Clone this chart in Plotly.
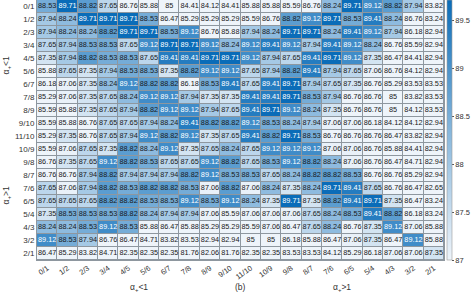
import plotly.graph_objects as go

# Category labels (rows top->bottom, columns left->right)
row_labels = ["0/1", "1/2", "2/3", "3/4", "4/5", "5/6", "6/7", "7/8", "8/9", "9/10",
              "11/10", "10/9", "9/8", "8/7", "7/6", "6/5", "5/4", "4/3", "3/2", "2/1"]
col_labels = ["0/1", "1/2", "2/3", "3/4", "4/5", "5/6", "6/7", "7/8", "8/9", "9/10",
              "11/10", "10/9", "9/8", "8/7", "7/6", "6/5", "5/4", "4/3", "3/2", "2/1"]

# Cell values, one list per row
r_0_1 = [88.53, 89.71, 88.82, 87.65, 86.76, 85.88, 85, 84.41, 84.12, 84.41, 85.88, 85.88, 85.59, 86.76, 88.24, 89.71, 89.12, 88.82, 87.94, 83.82]
r_1_2 = [87.94, 88.24, 89.71, 89.71, 89.71, 88.53, 86.47, 85.29, 85.29, 85.29, 85.59, 86.76, 88.82, 89.12, 89.71, 88.53, 89.41, 88.24, 86.76, 83.24]
r_2_3 = [87.94, 88.24, 88.24, 88.82, 89.71, 89.71, 88.53, 89.12, 86.76, 85.88, 87.94, 88.24, 89.71, 89.71, 88.24, 89.41, 89.12, 87.94, 86.18, 82.94]
r_3_4 = [87.65, 87.94, 88.53, 88.53, 87.65, 89.12, 89.71, 89.71, 89.12, 88.24, 89.12, 89.41, 89.12, 87.94, 89.41, 89.12, 88.24, 86.76, 85.59, 82.94]
r_4_5 = [87.35, 87.94, 88.82, 88.53, 88.53, 87.65, 89.41, 89.41, 89.71, 89.71, 89.12, 87.94, 87.65, 89.41, 89.71, 89.12, 87.35, 86.47, 84.41, 82.94]
r_5_6 = [85.88, 87.65, 87.35, 87.94, 88.53, 88.53, 87.35, 88.82, 89.12, 89.12, 87.65, 87.94, 88.82, 89.41, 87.94, 87.65, 87.06, 86.76, 84.12, 82.94]
r_6_7 = [86.18, 87.06, 87.35, 88.24, 89.12, 88.82, 88.82, 86.18, 88.53, 89.41, 87.65, 89.41, 89.71, 87.94, 87.65, 87.35, 86.76, 85.29, 83.53, 83.53]
r_7_8 = [85.29, 87.06, 87.35, 87.65, 88.24, 89.12, 89.12, 87.94, 87.35, 87.35, 89.41, 89.41, 89.71, 88.53, 87.94, 86.76, 86.76, 85, 83.82, 83.53]
r_8_9 = [85.59, 85.88, 87.35, 87.65, 87.94, 88.82, 89.12, 89.12, 87.94, 87.65, 89.41, 89.71, 89.12, 88.24, 87.35, 86.76, 86.76, 85, 84.12, 83.53]
r_9_10 = [85.59, 85.88, 86.76, 87.65, 87.65, 87.94, 88.24, 89.41, 88.82, 88.82, 89.12, 88.53, 88.24, 87.94, 87.06, 87.06, 86.18, 84.12, 84.12, 82.94]
r_11_10 = [85.29, 87.35, 86.76, 87.65, 87.94, 89.12, 88.82, 89.12, 87.35, 87.65, 89.41, 88.82, 89.71, 88.53, 86.76, 86.76, 86.76, 86.47, 83.82, 82.94]
r_10_9 = [85.59, 87.06, 87.65, 87.35, 88.82, 88.24, 89.12, 87.35, 87.65, 88.24, 87.65, 89.12, 89.12, 89.12, 87.06, 87.06, 86.76, 85.88, 84.41, 82.94]
r_9_8 = [86.76, 87.35, 87.65, 89.12, 88.82, 88.53, 87.65, 87.65, 89.12, 88.82, 87.65, 88.53, 89.12, 88.82, 88.24, 87.06, 86.76, 86.47, 84.71, 82.94]
r_8_7 = [86.76, 86.76, 87.94, 88.82, 87.94, 87.94, 87.94, 88.82, 89.12, 88.53, 88.53, 87.65, 88.24, 88.82, 88.82, 88.53, 86.76, 86.76, 85.29, 82.94]
r_7_6 = [87.65, 87.06, 87.94, 88.82, 88.53, 88.82, 88.82, 88.53, 87.06, 88.82, 87.06, 88.24, 87.35, 88.24, 89.71, 89.41, 87.65, 86.76, 86.47, 82.65]
r_6_5 = [87.65, 87.65, 87.65, 88.82, 88.82, 88.53, 88.53, 89.12, 88.53, 89.12, 88.24, 87.35, 89.71, 87.35, 88.82, 89.41, 89.71, 87.35, 86.47, 83.24]
r_5_4 = [87.35, 88.53, 88.53, 88.53, 88.82, 88.24, 87.94, 87.94, 87.06, 85.59, 87.06, 87.06, 87.06, 87.65, 88.24, 88.53, 89.41, 88.82, 86.18, 83.24]
r_4_3 = [88.24, 88.24, 88.53, 89.12, 88.53, 85.88, 86.47, 85.88, 85.29, 85.29, 85.59, 87.06, 86.47, 87.65, 88.24, 86.76, 87.35, 89.12, 87.06, 85.88]
r_3_2 = [89.12, 88.53, 87.94, 86.76, 86.47, 84.71, 83.82, 83.53, 82.94, 82.94, 85, 85, 86.18, 85.88, 86.47, 87.06, 87.35, 86.47, 89.12, 85.88]
r_2_1 = [86.47, 85.29, 83.82, 84.71, 82.35, 82.35, 82.35, 81.76, 82.06, 81.76, 82.35, 82.35, 83.53, 83.53, 84.12, 85.29, 86.18, 87.06, 87.06, 87.35]

cbar_ticks = [87, 87.5, 88, 88.5, 89, 89.5]

z = [r_0_1, r_1_2, r_2_3, r_3_4, r_4_5, r_5_6, r_6_7, r_7_8, r_8_9, r_9_10,
     r_11_10, r_10_9, r_9_8, r_8_7, r_7_6, r_6_5, r_5_4, r_4_3, r_3_2, r_2_1]

nx = len(col_labels)
ny = len(row_labels)
xs = list(range(nx))
ys = list(range(ny))

zmin, zmax = 87, 89.71
font_fam = "Arial, Liberation Sans, sans-serif"

fig = go.Figure()
fig.add_trace(go.Heatmap(
    z=z, x=xs, y=ys, zmin=zmin, zmax=zmax,
    colorscale=[[0, "#eef4fa"], [0.5, "#85b6dc"], [1, "#0a6cb8"]],
    xgap=1, ygap=1, hoverinfo="skip",
    colorbar=dict(
        thickness=5, len=1.0, lenmode="fraction", y=0.5, yanchor="middle",
        x=1.007, xanchor="left", xpad=0, ypad=0,
        outlinewidth=0.6, outlinecolor="#9a9a9a",
        tickvals=cbar_ticks, ticktext=[f"{t:g}" for t in cbar_ticks],
        ticks="outside", ticklen=2, tickwidth=0.6, tickcolor="#555555",
        tickfont=dict(size=7.5, color="#333333", family=font_fam),
    ),
))

tx, ty, tt, tc = [], [], [], []
for j, row in enumerate(z):
    for i, v in enumerate(row):
        tx.append(xs[i]); ty.append(ys[j]); tt.append(f"{v:g}")
        tc.append("#ffffff" if v >= 89.0 else "#1a1a1a")

fig.add_trace(go.Scatter(
    x=tx, y=ty, text=tt, mode="text", hoverinfo="skip", showlegend=False,
    textfont=dict(size=7.3, color=tc, family=font_fam),
))

fig.update_layout(
    width=471, height=296,
    margin=dict(l=37, r=24, t=0, b=36),
    paper_bgcolor="white", plot_bgcolor="#8e979f",
    showlegend=False,
    xaxis=dict(
        tickmode="array", tickvals=xs, ticktext=col_labels, tickangle=-35,
        range=[-0.5, nx - 0.5], showgrid=False, zeroline=False,
        showline=True, linecolor="#8e979f", linewidth=1, mirror=True,
        ticks="", automargin=False,
        tickfont=dict(size=7.5, color="#333333", family=font_fam),
    ),
    yaxis=dict(
        tickmode="array", tickvals=ys, ticktext=row_labels,
        range=[ny - 0.5, -0.5], showgrid=False, zeroline=False,
        showline=True, linecolor="#8e979f", linewidth=1, mirror=True,
        ticks="", automargin=False,
        tickfont=dict(size=8, color="#333333", family=font_fam),
    ),
)

ann_font = dict(size=8.5, color="#333333", family=font_fam)
yb = -0.105
fig.add_annotation(text="α<sub>+</sub>&lt;1", x=4.5, xref="x", y=yb, yref="paper",
                   showarrow=False, font=ann_font, yanchor="middle")
fig.add_annotation(text="(b)", x=9.5, xref="x", y=yb, yref="paper",
                   showarrow=False, font=ann_font, yanchor="middle")
fig.add_annotation(text="α<sub>+</sub>&gt;1", x=14.5, xref="x", y=yb, yref="paper",
                   showarrow=False, font=ann_font, yanchor="middle")
fig.add_annotation(text="α<sub>+</sub>&lt;1", x=-0.075, xref="paper", y=4.5, yref="y",
                   showarrow=False, font=ann_font, textangle=-90, xanchor="center")
fig.add_annotation(text="α<sub>+</sub>&gt;1", x=-0.075, xref="paper", y=14.5, yref="y",
                   showarrow=False, font=ann_font, textangle=-90, xanchor="center")

fig.write_html("out.html", config={"displayModeBar": False},
               post_script="document.body.style.margin='0';document.body.style.overflow='hidden';")
